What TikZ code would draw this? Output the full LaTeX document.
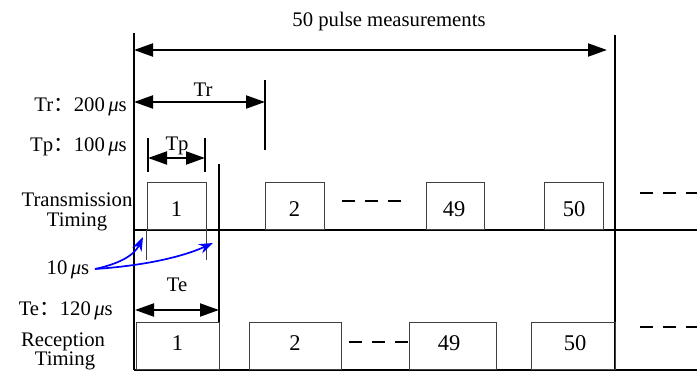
\documentclass[tikz,border=0pt]{standalone}
\usepackage{fontspec}
\setmainfont{Liberation Serif}
\newfontfamily\cjk{Noto Sans CJK SC}
\usetikzlibrary{arrows.meta}
\newcommand\mymus{\textit{μ}s}
\begin{document}
\begin{tikzpicture}[x=1pt,y=-1pt,
  every node/.style={font=\fontsize{20.7}{24}\selectfont, inner sep=0pt},
  num/.style={anchor=base, font=\fontsize{22.5}{26}\selectfont},
  axis/.style={line width=2pt},
  box/.style={draw=black!75, line width=1pt},
  dim/.style={line width=2pt, {Triangle[length=19pt,width=13pt]}-{Triangle[length=19pt,width=13pt]}},
  dashline/.style={line width=2pt, dash pattern=on 13pt off 10pt},
  bluearr/.style={draw=blue, line width=1.7pt, -{Stealth[length=14pt,width=10pt]}}]
\useasboundingbox (0,0) rectangle (697,371);

% main frame lines
\coordinate (L0) at (134,33);
\coordinate (L1) at (134,370);
\coordinate (R0) at (615,35);
\coordinate (R1) at (615,370);
\draw[axis] (L0) -- (L1);
\draw[axis] (R0) -- (R1);

% heading
\node[anchor=base] (head) at (389,27) {50 pulse measurements};
\coordinate (hA) at (134,50);
\coordinate (hB) at (607,50);
\draw[dim] (hA) -- (hB);

% Tr
\coordinate (trT0) at (265,80);
\coordinate (trT1) at (265,150);
\draw[axis] (trT0) -- (trT1);
\coordinate (trA) at (134,102);
\coordinate (trB) at (265,102);
\draw[dim] (trA) -- (trB);
\node[anchor=base] (trlab) at (203,97) {Tr};
\node[anchor=base east] (trval) at (127,112) {Tr{\cjk ：}200\,\mymus};

% Tp
\coordinate (tpL0) at (148,138);
\coordinate (tpL1) at (148,172);
\coordinate (tpR0) at (205,138);
\coordinate (tpR1) at (205,172);
\draw[axis] (tpL0) -- (tpL1);
\draw[axis] (tpR0) -- (tpR1);
\coordinate (tpA) at (148,158);
\coordinate (tpB) at (205,158);
\draw[dim] (tpA) -- (tpB);
\node[anchor=base] (tplab) at (177,151) {Tp};
\node[anchor=base east] (tpval) at (127,152) {Tp{\cjk ：}100\,\mymus};

% Te
\coordinate (teV0) at (219,164);
\coordinate (teV1) at (219,323);
\draw[axis] (teV0) -- (teV1);
\coordinate (teA) at (135,310);
\coordinate (teB) at (219,310);
\draw[dim] (teA) -- (teB);
\node[anchor=base] (telab) at (177,292) {Te};
\node[anchor=base east] (teval) at (113,316) {Te{\cjk ：}120\,\mymus};

% axes
\coordinate (txA) at (134,230);
\coordinate (txB) at (697,230);
\coordinate (rxA) at (134,370);
\coordinate (rxB) at (697,370);
\draw[axis] (txA) -- (txB);
\draw[axis] (rxA) -- (rxB);

% transmission boxes
\node[box, minimum width=59pt, minimum height=47pt] (tb1) at (176.5,206.5) {};
\node[box, minimum width=59pt, minimum height=47pt] (tb2) at (294.5,206.5) {};
\node[box, minimum width=58pt, minimum height=47pt] (tb49) at (455,206.5) {};
\node[box, minimum width=59pt, minimum height=47pt] (tb50) at (573.5,206.5) {};
\node[num] (nt1) at (176.5,217) {1};
\node[num] (nt2) at (294.5,217) {2};
\node[num] (nt49) at (454,217) {49};
\node[num] (nt50) at (574,217) {50};
\draw[box] (tb1.south west) -- ++(0,30);
\draw[box] (tb1.south east) -- ++(0,30);

% reception boxes
\node[box, minimum width=83pt, minimum height=47pt] (rb1) at (177.5,346.5) {};
\node[box, minimum width=92pt, minimum height=47pt] (rb2) at (295,346.5) {};
\node[box, minimum width=87pt, minimum height=47pt] (rb49) at (452.5,346.5) {};
\node[box, minimum width=84pt, minimum height=47pt] (rb50) at (573,346.5) {};
\node[num] (nr1) at (177.5,351) {1};
\node[num] (nr2) at (295,351) {2};
\node[num] (nr49) at (449,351) {49};
\node[num] (nr50) at (575,351) {50};

% dashes
\coordinate (d1a) at (342,201);
\coordinate (d1b) at (402,201);
\draw[dashline] (d1a) -- (d1b);
\coordinate (d2a) at (349,342);
\draw[dashline] (d2a) -- (rb49.west |- d2a);
\coordinate (d3a) at (640,193);
\coordinate (d3b) at (697,193);
\draw[dashline] (d3a) -- (d3b);
\coordinate (d4a) at (640,327);
\coordinate (d4b) at (697,327);
\draw[dashline] (d4a) -- (d4b);

% row labels
\node[anchor=base] (txl1) at (77,207) {Transmission};
\node[anchor=base] (txl2) at (77,227) {Timing};
\node[anchor=base] (rxl1) at (63,347) {Reception};
\node[anchor=base] (rxl2) at (65,366) {Timing};

% 10 us
\node[anchor=base] (ten) at (68,275) {10\,\mymus};
\coordinate (bs) at (95,269);
\coordinate (bt1) at (143,237);
\coordinate (bt2) at (213,243);
\draw[bluearr] (bs) .. controls (118,264) and (134,256) .. (bt1);
\draw[bluearr] (bs) .. controls (140,266) and (180,258) .. (bt2);
\end{tikzpicture}
\end{document}
